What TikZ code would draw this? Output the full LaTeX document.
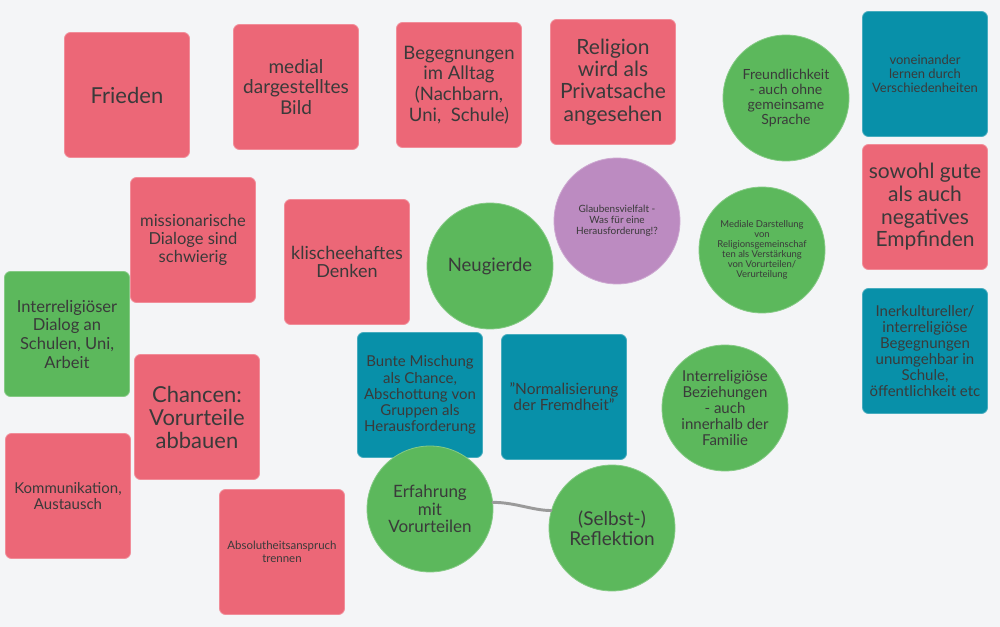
\documentclass[tikz,border=0pt]{standalone}
\usepackage{fontspec}
\setmainfont{Lato}
\definecolor{bg}{HTML}{F4F5F7}
\definecolor{pinkc}{HTML}{EC6777}
\definecolor{greenc}{HTML}{5CB85C}
\definecolor{tealc}{HTML}{0890A9}
\definecolor{purplec}{HTML}{BC8BC1}
\definecolor{txt}{HTML}{3A3A3A}
\definecolor{linkc}{HTML}{9A9A9A}
\newcommand{\fz}[2]{\fontsize{#1pt}{#2pt}\selectfont}
\tikzset{
  card/.style={rectangle, rounded corners=4.5pt, minimum width=93.75pt, minimum height=93.75pt,
    inner sep=0pt, align=center, text=txt, line width=0.6pt},
  pinkbox/.style={card, fill=pinkc, draw=pinkc!75!white},
  greenbox/.style={card, fill=greenc, draw=greenc!75!white},
  tealbox/.style={card, fill=tealc, draw=tealc!75!white},
  bubble/.style={circle, minimum size=94.5pt, inner sep=0pt, align=center, text=txt, line width=0.6pt},
  greencirc/.style={bubble, fill=greenc, draw=greenc!75!white},
  purplecirc/.style={bubble, fill=purplec, draw=purplec!75!white},
  link/.style={draw=linkc, line width=2.2pt, line cap=round}
}
\begin{document}
\begin{tikzpicture}[x=0.75pt,y=-0.75pt]
\fill[bg] (0,0) rectangle (1000,627);
\useasboundingbox (0,0) rectangle (1000,627);

% top row
\node[pinkbox, font=\fz{16.5}{19.8}] (frieden) at (127,95) {Frieden};
\node[pinkbox, font=\fz{14.25}{15.2}] (medial) at (296,87) {medial\\dargestelltes\\Bild};
\node[pinkbox, font=\fz{13.9}{15.5}] (begeg) at (459,85) {Begegnungen\\im Alltag\\(Nachbarn,\\Uni,\ \ Schule)};
\node[pinkbox, font=\fz{15.75}{16.7}] (relig) at (613,82) {Religion\\wird als\\Privatsache\\angesehen};
\node[greencirc, font=\fz{10.5}{11.25}] (freund) at (786,98) {Freundlichkeit\\- auch ohne\\gemeinsame\\Sprache};
\node[tealbox, font=\fz{9.75}{10.6}] (vonein) at (925,74) {voneinander\\lernen durch\\Verschiedenheiten};

% second row
\node[pinkbox, font=\fz{12.4}{13.7}] (mission) at (193,240) {missionarische\\Dialoge sind\\schwierig};
\node[pinkbox, font=\fz{13.5}{13.9}] (klischee) at (347,262) {klischeehaftes\\Denken};
\node[greencirc, font=\fz{13.9}{15}] (neugier) at (490,266) {Neugierde};
\node[purplecirc, font=\fz{7.5}{8.1}] (glauben) at (617,221) {Glaubensvielfalt -\\Was f\"ur eine\\Herausforderung!?};
\node[greencirc, font=\fz{7.1}{7.45}] (mediale) at (762,250) {Mediale Darstellung\\von\\Religionsgemeinschaf\\ten als Verst\"arkung\\von Vorurteilen/\\Verurteilung};
\node[pinkbox, font=\fz{15.75}{17}] (sowohl) at (925,207) {sowohl gute\\als auch\\negatives\\Empfinden};

% middle
\node[greenbox, font=\fz{12.4}{14}] (dialog) at (67,334) {Interreligi\"oser\\Dialog an\\Schulen, Uni,\\Arbeit};
\node[pinkbox, font=\fz{16.5}{17.25}] (chancen) at (197,417) {Chancen:\\Vorurteile\\abbauen};
\node[tealbox, font=\fz{11.25}{12.1}] (bunte) at (420,395) {Bunte Mischung\\als Chance,\\Abschottung von\\Gruppen als\\Herausforderung};
\node[tealbox, font=\fz{11.6}{12.2}] (normal) at (564,397) {"Normalisierung\\der Fremdheit"};
\node[greencirc, font=\fz{11.25}{11.9}] (bezieh) at (725,408) {Interreligi\"ose\\Beziehungen\\- auch\\innerhalb der\\Familie};
\node[tealbox, font=\fz{11.25}{11.9}] (inerk) at (925,351) {Inerkultureller/\\interreligi\"ose\\Begegnungen\\unumgehbar in\\Schule,\\\"offentlichkeit etc};

% bottom
\node[pinkbox, font=\fz{11.25}{11.8}] (kommu) at (68,496) {Kommunikation,\\Austausch};
\node[pinkbox, font=\fz{8.6}{10}] (absol) at (282,552) {Absolutheitsanspruch\\trennen};
\node[greencirc, font=\fz{12.75}{13.3}] (erfahr) at (430,509) {Erfahrung\\mit\\Vorurteilen};
\node[greencirc, font=\fz{14.25}{15}] (reflek) at (612,528) {(Selbst-)\\Reflektion};

\draw[link] (erfahr.6) .. controls +(22,0) and +(-18,0) .. (reflek.164);
\end{tikzpicture}
\end{document}
